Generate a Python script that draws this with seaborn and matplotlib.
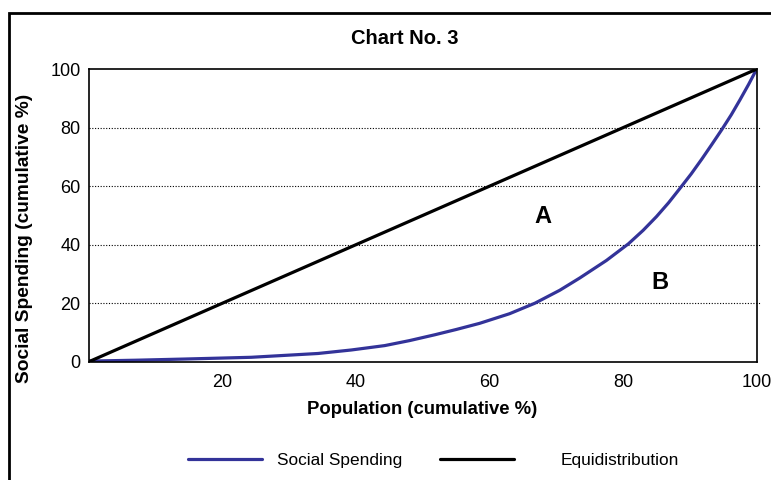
import pandas as pd
import matplotlib.pyplot as plt
import seaborn as sns
from matplotlib.patches import Rectangle

# cumulative population (%) and cumulative social spending (%)
population = [0, 7, 14.3, 24.3, 34.3, 39.3, 44.3, 48, 51.8, 55, 58.5, 63, 66.8,
              70.5, 73.5, 77.5, 80.8, 83, 85, 86.8, 88.5, 90.2, 91.8, 93.3,
              94.8, 96.2, 97.5, 98.8, 100]
spending = [0.2, 0.5, 0.9, 1.5, 2.8, 4.0, 5.5, 7.2, 9.2, 11.0, 13.1, 16.4, 20,
            24.4, 28.6, 34.6, 40.3, 44.9, 49.6, 54.3, 59.2, 64.2, 69.3, 74.3,
            79.4, 84.4, 89.5, 94.8, 100]
equi_x = [0, 100]
equi_y = [0, 100]

y_ticks = [0, 20, 40, 60, 80, 100]
x_ticks = [20, 40, 60, 80, 100]
area_labels = ["A", "B"]
area_x = [68, 85.5]
area_y = [49.5, 27]

sns.set_style("white")
plt.rcParams['font.family'] = ['Liberation Sans', 'DejaVu Sans']
plt.rcParams['text.color'] = 'black'
plt.rcParams['axes.labelcolor'] = 'black'
plt.rcParams['xtick.color'] = 'black'
plt.rcParams['ytick.color'] = 'black'

fig = plt.figure(figsize=(7.71, 4.80), dpi=100)
ax = fig.add_axes([0.1154, 0.2465, 0.866, 0.6095])

df_curve = pd.DataFrame({'Population': population, 'Spending': spending})
df_equi = pd.DataFrame({'Population': equi_x, 'Spending': equi_y})

sns.lineplot(data=df_curve, x='Population', y='Spending', ax=ax,
             color='#333399', lw=2.3, label='Social Spending', sort=False)
sns.lineplot(data=df_equi, x='Population', y='Spending', ax=ax,
             color='black', lw=2.3, label='Equidistribution', sort=False)
handles, labels = ax.get_legend_handles_labels()
ax.get_legend().remove()

for g in [20, 40, 60, 80]:
    ax.axhline(g, color='black', lw=0.8, ls=(0, (1, 1.5)), zorder=0,
               xmax=1.005, clip_on=False)

for t, xx, yy in zip(area_labels, area_x, area_y):
    ax.text(xx, yy, t, fontsize=17, fontweight='bold', ha='center', va='center')

ax.set_xlim(0, 100)
ax.set_ylim(0, 100)
ax.set_xticks(x_ticks)
ax.set_yticks(y_ticks)
ax.tick_params(axis='x', labelsize=13, length=0, pad=9)
ax.tick_params(axis='y', labelsize=13, length=0, pad=6)
for s in ax.spines.values():
    s.set_color('black')
    s.set_linewidth(1.2)
ax.set_xlabel('')
ax.set_ylabel('')

fig.text(405 / 771, 1 - 38 / 480, 'Chart No. 3', fontsize=14.5,
         fontweight='bold', ha='center', va='center')
fig.text(422 / 771, 1 - 410 / 480, 'Population (cumulative %)', fontsize=13.3,
         fontweight='bold', ha='center', va='center')
fig.text(25 / 771, 1 - 238 / 480, 'Social Spending (cumulative %)', fontsize=13.8,
         fontweight='bold', ha='center', va='center', rotation=90)

fig.legend([handles[0]], [labels[0]], loc='center left',
           bbox_to_anchor=(188 / 771, 1 - 460 / 480), frameon=False,
           fontsize=12.4, handlelength=4.3, handletextpad=0.87, borderpad=0,
           borderaxespad=0)
fig.legend([handles[1]], [labels[1]], loc='center left',
           bbox_to_anchor=(440 / 771, 1 - 460 / 480), frameon=False,
           fontsize=12.4, handlelength=4.3, handletextpad=2.7, borderpad=0,
           borderaxespad=0)

fig.patches.append(Rectangle((9 / 771, -0.1), 1.1, 1.1 - 13 / 480,
                             transform=fig.transFigure, fill=False,
                             edgecolor='black', lw=2, zorder=10))

fig.savefig('out.png', dpi=100)
